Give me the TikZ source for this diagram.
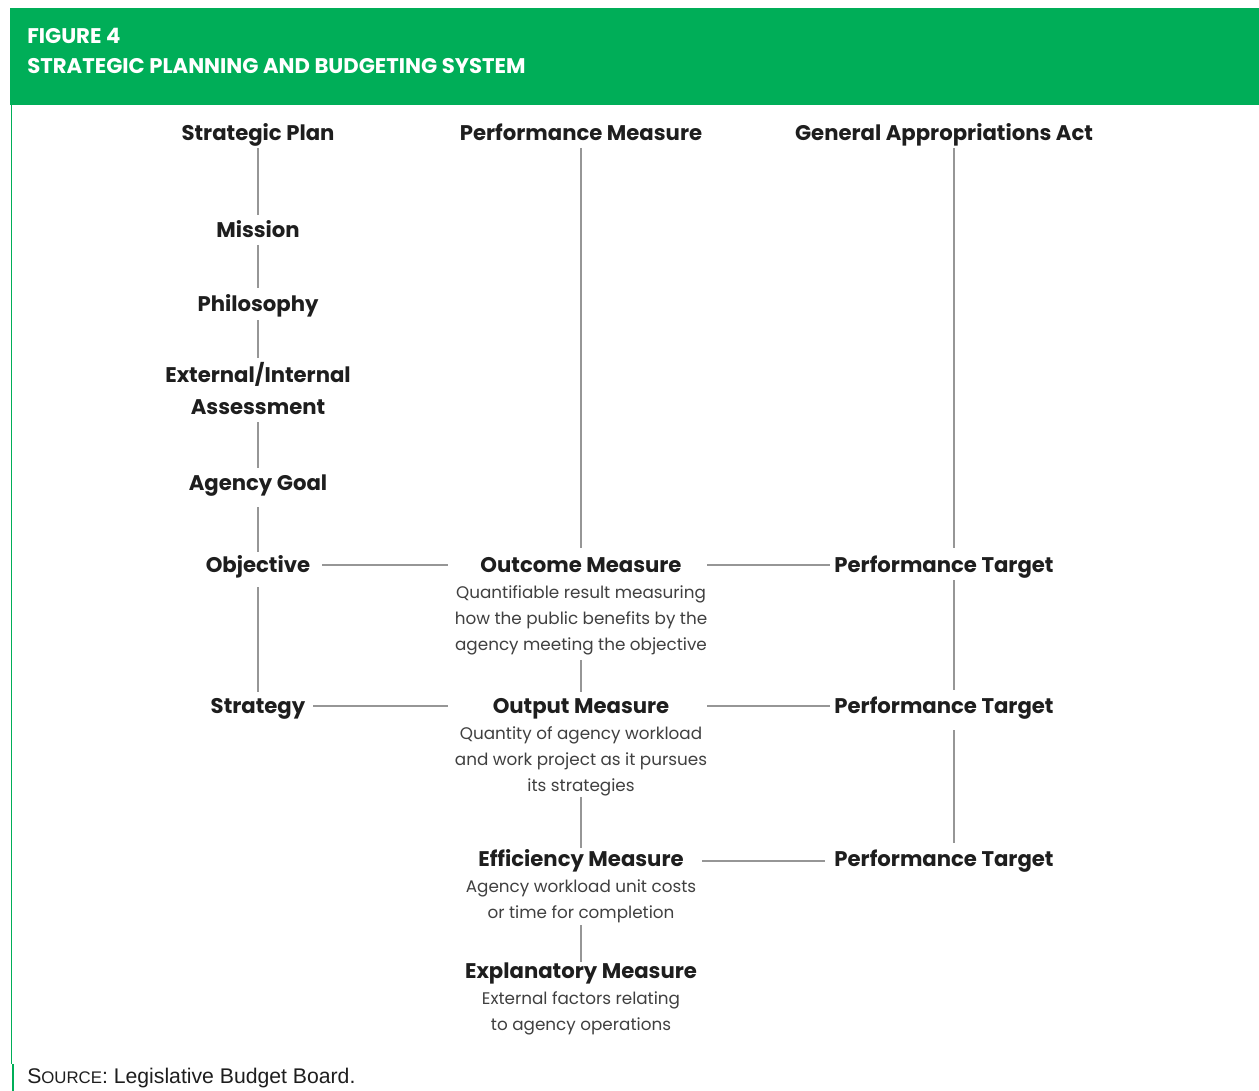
\documentclass[tikz,border=0pt]{standalone}
\usepackage{fontspec}
\setmainfont{Poppins}
\newfontfamily\srcfont{Liberation Sans}
\definecolor{lbbgreen}{RGB}{0,174,88}
\definecolor{linegray}{RGB}{150,150,150}
\definecolor{txt}{RGB}{30,30,30}
\tikzset{
  ttl/.style={font=\fontsize{15.9}{19}\selectfont\bfseries, text=txt, inner sep=0pt, anchor=base},
  dsc/.style={font=\fontsize{12.6}{15}\selectfont, text=txt!85, inner sep=0pt, anchor=base},
  hdr/.style={font=\fontsize{15.9}{19}\selectfont\bfseries, text=white, inner sep=0pt, anchor=west},
  conn/.style={draw=linegray, line width=0.8pt},
  cline/.style 2 args={conn, shorten <=#1, shorten >=#2}}
\begin{document}
\begin{tikzpicture}[x=0.75pt,y=-0.75pt]
\useasboundingbox (0,0) rectangle (1259,1091);
\fill[white] (0,0) rectangle (1259,1091);
% header
\fill[lbbgreen] (10,8) rectangle (1259,105);
\node[hdr] (fig) at (27,36) {FIGURE 4};
\node[hdr] (ttl) at (27,66) {STRATEGIC PLANNING AND BUDGETING SYSTEM};
% left border
\draw[lbbgreen, line width=1.3pt] (11.5,105) -- (11.5,1064);
\draw[lbbgreen, line width=2pt] (13,1064) -- (13,1091);
% source
\node[font=\srcfont\fontsize{15.9}{18}\selectfont, anchor=west, inner sep=0pt, text=txt] (src) at (27,1078)
  {S{\fontsize{12.6}{14}\selectfont OURCE}: Legislative Budget Board.};

% column 1
\node[ttl] (sp) at (258,140.5) {Strategic Plan};
\node[ttl] (mis) at (258,237.5) {Mission};
\node[ttl] (phi) at (258,311.5) {Philosophy};
\node[ttl] (ext1) at (258,382.5) {External/Internal};
\node[ttl] (ext2) at (258,414.5) {Assessment};
\node[ttl] (goal) at (258,490.5) {Agency Goal};
\node[ttl] (obj) at (258,572.5) {Objective};
\node[ttl] (str) at (258,713.5) {Strategy};

% column 2
\node[ttl] (pm) at (581,140.5) {Performance Measure};
\node[ttl] (outc) at (581,572.5) {Outcome Measure};
\node[dsc] (outc1) at (581,598) {Quantifiable result measuring};
\node[dsc] (outc2) at (581,624) {how the public benefits by the};
\node[dsc] (outc3) at (581,650) {agency meeting the objective};
\node[ttl] (outp) at (581,713.5) {Output Measure};
\node[dsc] (outp1) at (581,739) {Quantity of agency workload};
\node[dsc] (outp2) at (581,765) {and work project as it pursues};
\node[dsc] (outp3) at (581,791) {its strategies};
\node[ttl] (eff) at (581,866.5) {Efficiency Measure};
\node[dsc] (eff1) at (581,892) {Agency workload unit costs};
\node[dsc] (eff2) at (581,918) {or time for completion};
\node[ttl] (expl) at (581,978.5) {Explanatory Measure};
\node[dsc] (expl1) at (581,1004) {External factors relating};
\node[dsc] (expl2) at (581,1030) {to agency operations};

% column 3
\node[ttl] (gaa) at (944,140.5) {General Appropriations Act};
\node[ttl] (pt1) at (944,572.5) {Performance Target};
\node[ttl] (pt2) at (944,713.5) {Performance Target};
\node[ttl] (pt3) at (944,866.5) {Performance Target};

% column 1 verticals
\draw[cline={5.625pt}{16.875pt}] (sp.base) -- (mis.base);
\draw[cline={5.625pt}{17.625pt}] (mis.base) -- (phi.base);
\draw[cline={6.375pt}{18.375pt}] (phi.base) -- (ext1.base);
\draw[cline={5.625pt}{16.875pt}] (ext2.base) -- (goal.base);
\draw[cline={12.375pt}{15.375pt}] (goal.base) -- (obj.base);
\draw[cline={10.875pt}{16.125pt}] (obj.base) -- (str.base);

% column 2 verticals
\draw[cline={5.625pt}{18.375pt}] (pm.base) -- (outc.base);
\draw[cline={7.5pt}{16.125pt}] (outc3.base) -- (outp.base);
\draw[cline={4.5pt}{13.875pt}] (outp3.base) -- (eff.base);
\draw[cline={5.25pt}{12.375pt}] (eff2.base) -- (expl.base);

% column 3 verticals (offset from text centre)
\draw[cline={5.625pt}{18.375pt}] ([xshift=7.5pt]gaa.base) -- ([xshift=7.5pt]pt1.base);
\draw[cline={5.625pt}{17.625pt}] ([xshift=7.5pt]pt1.base) -- ([xshift=7.5pt]pt2.base);
\draw[cline={12.375pt}{17.625pt}] ([xshift=7.5pt]pt2.base) -- ([xshift=7.5pt]pt3.base);

% horizontals
\draw[cline={48pt}{99.75pt}] ([yshift=5.625pt]obj.base) -- ([yshift=5.625pt]outc.base);
\draw[cline={94.5pt}{85.5pt}] ([yshift=5.625pt]outc.base) -- ([yshift=5.625pt]pt1.base);
\draw[cline={41.25pt}{99.75pt}] ([yshift=5.625pt]str.base) -- ([yshift=5.625pt]outp.base);
\draw[cline={94.5pt}{85.5pt}] ([yshift=5.625pt]outp.base) -- ([yshift=5.625pt]pt2.base);
\draw[cline={90.75pt}{89.25pt}] ([yshift=4.125pt]eff.base) -- ([yshift=4.125pt]pt3.base);
\end{tikzpicture}
\end{document}
